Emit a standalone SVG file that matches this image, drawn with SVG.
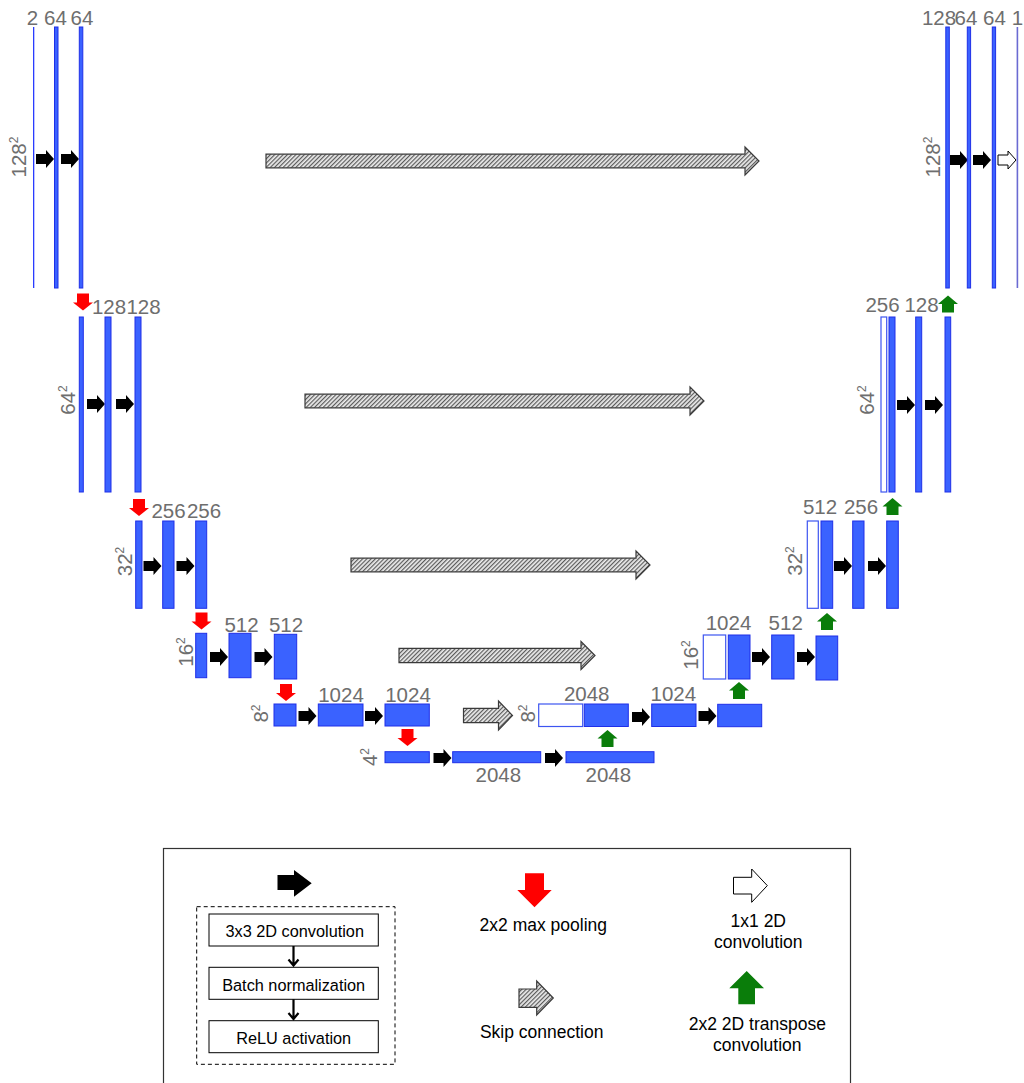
<svg xmlns="http://www.w3.org/2000/svg" width="1024" height="1083" viewBox="0 0 1024 1083">
<defs>
<style>
.bar{fill:#3a62ff;stroke:#1f2fe8;stroke-width:1}
.thin{fill:#2a3cff;stroke:none}
.empty{fill:#fff;stroke:#3d55f0;stroke-width:1.2}
.lbl{font-family:"Liberation Sans",Arial,sans-serif;font-size:20.5px;fill:#6e6e6e;text-anchor:middle}
.sup{font-size:12px}
.conv{fill:#000}
.skip{fill:url(#hatch);stroke:#3a3a3a;stroke-width:1.2}
.pool{fill:#ff0000}
.up{fill:#0a7d0a}
.one{fill:#fff;stroke:#000;stroke-width:1}
.leg{font-family:"Liberation Sans",Arial,sans-serif;font-size:17.5px;fill:#000;text-anchor:middle}
.box{fill:#fff;stroke:#000;stroke-width:1}
.btx{font-family:"Liberation Sans",Arial,sans-serif;font-size:16.3px;fill:#000;text-anchor:middle}
</style>
<pattern id="hatch" width="3" height="3" patternUnits="userSpaceOnUse" patternTransform="rotate(45)">
<rect width="3" height="3" fill="#ececec"/>
<rect width="1.2" height="3" fill="#5a5a5a"/>
</pattern>
<path id="ca" d="M0,-5H10V-9L18,0L10,9V5H0Z"/>
<path id="pa" d="M-6,0H6V9H10L0,17L-10,9H-6Z"/>
<path id="ua" d="M0,0L10,8.5H6V17H-6V8.5H-10Z"/>
</defs>
<rect width="1024" height="1083" fill="#fff"/>

<g id="connectors">
<path class="skip" d="M266,154.2H745V147L759,161L745,175V167.8H266Z"/>
<path class="skip" d="M305,394.2H690V387L704,401L690,415V407.8H305Z"/>
<path class="skip" d="M351,558.2H636V551L650,565L636,579V571.8H351Z"/>
<path class="skip" d="M399,648.3H581V641.5L595,655.5L581,669.5V662.7H399Z"/>
<path class="skip" d="M463.5,708.3H498.5V701L512.5,715.5L498.5,730V722.7H463.5Z"/>
<use href="#ca" class="conv" transform="translate(36,159)"/>
<use href="#ca" class="conv" transform="translate(61,159)"/>
<use href="#ca" class="conv" transform="translate(950,160)"/>
<use href="#ca" class="conv" transform="translate(973,160)"/>
<use href="#ca" class="one" transform="translate(998,160)"/>
<use href="#ca" class="conv" transform="translate(87,404)"/>
<use href="#ca" class="conv" transform="translate(116,404)"/>
<use href="#ca" class="conv" transform="translate(897,405)"/>
<use href="#ca" class="conv" transform="translate(925,405)"/>
<use href="#ca" class="conv" transform="translate(143.5,566)"/>
<use href="#ca" class="conv" transform="translate(176.5,566)"/>
<use href="#ca" class="conv" transform="translate(834,566)"/>
<use href="#ca" class="conv" transform="translate(868,566)"/>
<use href="#ca" class="conv" transform="translate(210,657)"/>
<use href="#ca" class="conv" transform="translate(254.5,657)"/>
<use href="#ca" class="conv" transform="translate(752,657)"/>
<use href="#ca" class="conv" transform="translate(797,657)"/>
<use href="#ca" class="conv" transform="translate(298.5,716)"/>
<use href="#ca" class="conv" transform="translate(365,716)"/>
<use href="#ca" class="conv" transform="translate(632,717)"/>
<use href="#ca" class="conv" transform="translate(698.5,716)"/>
<use href="#ca" class="conv" transform="translate(433.5,758)"/>
<use href="#ca" class="conv" transform="translate(545,758)"/>
<use href="#pa" class="pool" transform="translate(83,293.5)"/>
<use href="#pa" class="pool" transform="translate(139,499)"/>
<use href="#pa" class="pool" transform="translate(201.5,612.5)"/>
<use href="#pa" class="pool" transform="translate(286,684)"/>
<use href="#pa" class="pool" transform="translate(407.5,729)"/>
<use href="#ua" class="up" transform="translate(607.5,730)"/>
<use href="#ua" class="up" transform="translate(739,682)"/>
<use href="#ua" class="up" transform="translate(827,613)"/>
<use href="#ua" class="up" transform="translate(892.5,498)"/>
<use href="#ua" class="up" transform="translate(948,295.5)"/>
</g>

<g id="level1-left">
<rect class="thin" x="33" y="27" width="1.3" height="261"/>
<rect class="bar" x="54.5" y="27" width="3.5" height="261"/>
<rect class="bar" x="79.3" y="27" width="3.5" height="261"/>
<text class="lbl" x="32.5" y="25">2</text>
<text class="lbl" x="55.5" y="25">64</text>
<text class="lbl" x="82" y="25">64</text>
<text class="lbl" transform="translate(26,157) rotate(-90)">128<tspan class="sup" dy="-8">2</tspan></text>
</g>

<g id="level1-right">
<rect class="bar" x="945.8" y="27" width="3.5" height="261"/>
<rect class="bar" x="967.3" y="27" width="3.3" height="261"/>
<rect class="bar" x="992.3" y="27" width="3.3" height="261"/>
<rect x="1016.6" y="27" width="1.6" height="261" fill="#6a6ad2"/>
<text class="lbl" x="939" y="25">128</text>
<text class="lbl" x="966" y="25">64</text>
<text class="lbl" x="994.5" y="25">64</text>
<text class="lbl" x="1017.5" y="25">1</text>
<text class="lbl" transform="translate(940,157) rotate(-90)">128<tspan class="sup" dy="-8">2</tspan></text>
</g>

<g id="level2-left">
<rect class="bar" x="79.3" y="317" width="4" height="175"/>
<rect class="bar" x="105" y="317" width="6" height="175"/>
<rect class="bar" x="135" y="317" width="6" height="175"/>
<text class="lbl" x="109" y="314">128</text>
<text class="lbl" x="143.5" y="314">128</text>
<text class="lbl" transform="translate(75,400) rotate(-90)">64<tspan class="sup" dy="-8">2</tspan></text>
</g>

<g id="level2-right">
<rect class="empty" x="881" y="317" width="5.7" height="175"/>
<rect class="bar" x="889" y="317" width="6" height="175"/>
<rect class="bar" x="915.7" y="317" width="6" height="175"/>
<rect class="bar" x="945" y="317" width="5.7" height="175"/>
<text class="lbl" x="882.5" y="312">256</text>
<text class="lbl" x="921.5" y="312">128</text>
<text class="lbl" transform="translate(874.3,400) rotate(-90)">64<tspan class="sup" dy="-8">2</tspan></text>
</g>

<g id="level3-left">
<rect class="bar" x="135.7" y="521" width="6.3" height="87.3"/>
<rect class="bar" x="162.7" y="521" width="11.3" height="87.3"/>
<rect class="bar" x="195.7" y="521" width="11" height="87.3"/>
<text class="lbl" x="168.5" y="517.5">256</text>
<text class="lbl" x="204" y="517.5">256</text>
<text class="lbl" transform="translate(131.5,561.5) rotate(-90)">32<tspan class="sup" dy="-8">2</tspan></text>
</g>

<g id="level3-right">
<rect class="empty" x="807.3" y="521" width="11" height="87.3"/>
<rect class="bar" x="821" y="521" width="11.7" height="87.3"/>
<rect class="bar" x="852.7" y="521" width="11.3" height="87.3"/>
<rect class="bar" x="886.7" y="521" width="11.6" height="87.3"/>
<text class="lbl" x="820" y="514.3">512</text>
<text class="lbl" x="861" y="514.3">256</text>
<text class="lbl" transform="translate(801.5,561) rotate(-90)">32<tspan class="sup" dy="-8">2</tspan></text>
</g>

<g id="level4-left">
<rect class="bar" x="195.7" y="633.3" width="11" height="44.4"/>
<rect class="bar" x="229" y="633.3" width="22" height="44.4"/>
<rect class="bar" x="274.3" y="634.3" width="22.4" height="44.7"/>
<text class="lbl" x="241.5" y="631.5">512</text>
<text class="lbl" x="286" y="631.5">512</text>
<text class="lbl" transform="translate(192.5,652) rotate(-90)">16<tspan class="sup" dy="-8">2</tspan></text>
</g>

<g id="level4-right">
<rect class="empty" x="703.3" y="635" width="22.4" height="44"/>
<rect class="bar" x="728.3" y="635" width="21.7" height="44"/>
<rect class="bar" x="771.7" y="635" width="22.3" height="44"/>
<rect class="bar" x="816" y="636" width="21.7" height="44"/>
<text class="lbl" x="728.5" y="630">1024</text>
<text class="lbl" x="785.7" y="630">512</text>
<text class="lbl" transform="translate(697.5,655) rotate(-90)">16<tspan class="sup" dy="-8">2</tspan></text>
</g>

<g id="level5-left">
<rect class="bar" x="274" y="704" width="22" height="22"/>
<rect class="bar" x="318.3" y="704" width="44.7" height="22"/>
<rect class="bar" x="385" y="704" width="44.3" height="22"/>
<text class="lbl" x="341" y="701.5">1024</text>
<text class="lbl" x="408" y="701.5">1024</text>
<text class="lbl" transform="translate(268,713.5) rotate(-90)">8<tspan class="sup" dy="-8">2</tspan></text>
</g>

<g id="level5-right">
<rect class="empty" x="538.7" y="704" width="44" height="22.5"/>
<rect class="bar" x="584.3" y="704" width="44" height="22.5"/>
<rect class="bar" x="651.7" y="704" width="44.3" height="22.5"/>
<rect class="bar" x="717.7" y="704.3" width="44" height="22.4"/>
<text class="lbl" x="586.7" y="700.7">2048</text>
<text class="lbl" x="673.3" y="700.7">1024</text>
<text class="lbl" transform="translate(535,713.5) rotate(-90)">8<tspan class="sup" dy="-8">2</tspan></text>
</g>

<g id="level6">
<rect class="bar" x="385" y="751.7" width="44.3" height="11"/>
<rect class="bar" x="452.7" y="751.7" width="88" height="11"/>
<rect class="bar" x="566" y="751.7" width="88" height="11"/>
<text class="lbl" x="498.3" y="781.5">2048</text>
<text class="lbl" x="608.3" y="781.5">2048</text>
<text class="lbl" transform="translate(377.3,757) rotate(-90)">4<tspan class="sup" dy="-8">2</tspan></text>
</g>

<g id="legend">
<rect x="163.5" y="848.5" width="687" height="240" fill="#fff" stroke="#333" stroke-width="1.2"/>
<path d="M277.5,875H294V870L311.7,883.3L294,896.7V890H277.5Z" fill="#000"/>
<rect x="196.7" y="906.7" width="198.3" height="157.6" fill="none" stroke="#000" stroke-width="1" stroke-dasharray="4,3"/>
<rect class="box" x="209" y="914" width="169.3" height="32"/>
<rect class="box" x="209" y="967.3" width="169.3" height="32"/>
<rect class="box" x="209" y="1020.7" width="169.3" height="32"/>
<text class="btx" x="294.7" y="937">3x3 2D convolution</text>
<text class="btx" x="293.7" y="990.5">Batch normalization</text>
<text class="btx" x="293.7" y="1043.5">ReLU activation</text>
<g stroke="#000" stroke-width="2.2" fill="none">
<path d="M293.5,946V965.5M288.5,959.5L293.5,965.5L298.5,959.5"/>
<path d="M293.5,999.3V1019M288.5,1013L293.5,1019L298.5,1013"/>
</g>
<path d="M525,873.3H544V890H551.7L534.5,907.3L517.3,890H525Z" fill="#ff0000"/>
<text class="leg" x="543.3" y="930.5">2x2 max pooling</text>
<path d="M733.5,877.3H751.7V869L767.3,885.6L751.7,902.3V894H733.5Z" fill="#fff" stroke="#000" stroke-width="1"/>
<text class="leg" x="758.3" y="927.3">1x1 2D</text>
<text class="leg" x="758.3" y="948.3">convolution</text>
<path class="skip" d="M519,989H536.7V981L553.3,998L536.7,1015V1007.3H519Z"/>
<text class="leg" x="541.7" y="1038.3">Skip connection</text>
<path d="M746.7,971L764,988.3H755V1004.3H738.3V988.3H729.3Z" fill="#0a7d0a"/>
<text class="leg" x="757.3" y="1030">2x2 2D transpose</text>
<text class="leg" x="757.3" y="1050.5">convolution</text>
</g>
</svg>
